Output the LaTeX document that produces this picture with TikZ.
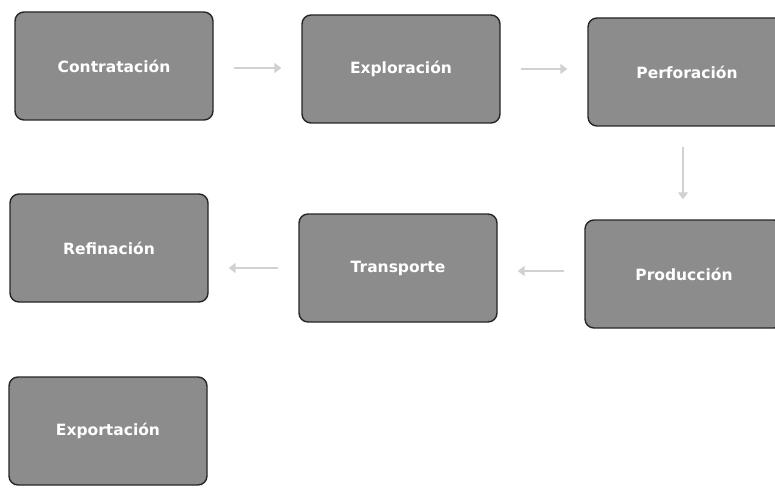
\documentclass[tikz,border=0pt]{standalone}
\usepackage{fontspec}
\setmainfont{DejaVu Sans}
\usetikzlibrary{arrows.meta,calc}
\begin{document}
\begin{tikzpicture}[x=1pt,y=-1pt,
  stage/.style={draw=black!85, line width=1.4pt, fill=black!45, rounded corners=9pt,
    minimum width=198pt, minimum height=108pt, inner sep=0pt,
    text=white, font=\bfseries\fontsize{15.5}{18}\selectfont},
  flow/.style={draw=black!18, line width=2.5pt, -{Triangle[length=7pt,width=10pt]}}]
\useasboundingbox (0,0) rectangle (775,497);
\node[stage] (contr) at (114,66) {Contratación};
\node[stage] (explo) at (401,69) {Exploración};
\node[stage] (perfo) at (687,72) {Perforación};
\node[stage] (refin) at (109,248) {Refinación};
\node[stage] (trans) at (398,268) {Transporte};
\node[stage] (produ) at (684,274) {Producción};
\node[stage] (expor) at (108,431) {Exportación};
\coordinate (a1) at ($(contr.east)+(20,2)$);
\coordinate (a2) at ($(explo.west)+(-20,0)$);
\draw[flow] (a1) -- (a1 -| a2);
\coordinate (b1) at ($(explo.east)+(20,0)$);
\coordinate (b2) at ($(perfo.west)+(-20,0)$);
\draw[flow] (b1) -- (b1 -| b2);
\coordinate (c1) at ($(perfo.south)+(-4,20)$);
\coordinate (c2) at ($(produ.north)+(0,-20)$);
\draw[flow] (c1) -- (c1 |- c2);
\coordinate (d1) at ($(produ.west)+(-20,-3)$);
\coordinate (d2) at ($(trans.east)+(20,0)$);
\draw[flow] (d1) -- (d1 -| d2);
\coordinate (e1) at ($(trans.west)+(-20,0)$);
\coordinate (e2) at ($(refin.east)+(20,0)$);
\draw[flow] (e1) -- (e1 -| e2);
\end{tikzpicture}
\end{document}
